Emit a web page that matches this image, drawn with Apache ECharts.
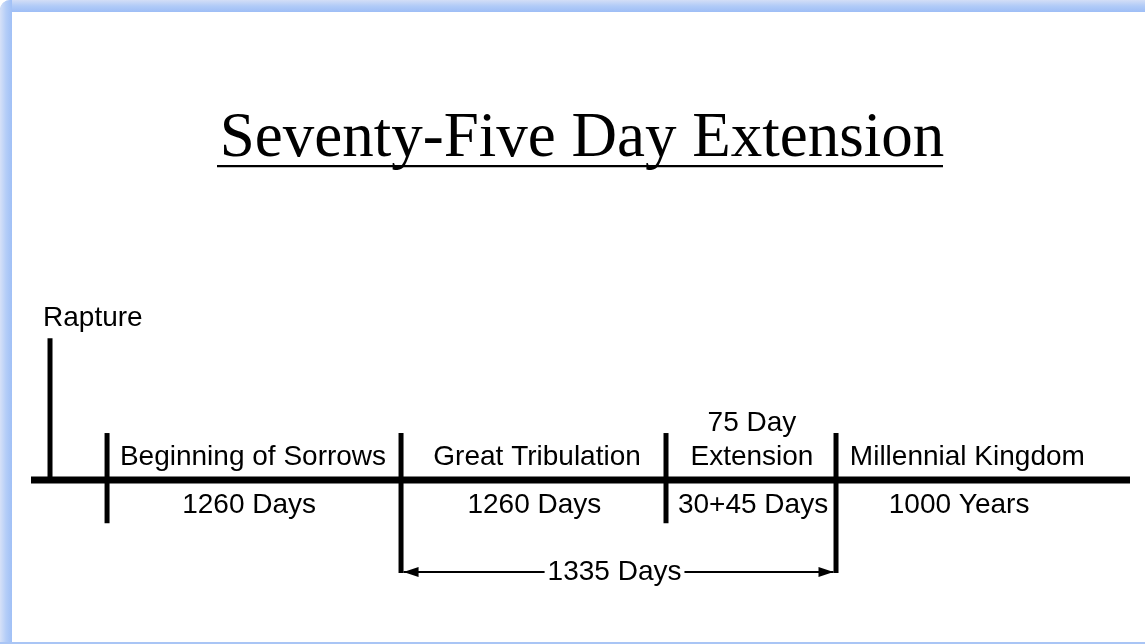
<!DOCTYPE html>
<html><head><meta charset="utf-8">
<script src="https://cdn.jsdelivr.net/npm/echarts@6/dist/echarts.min.js"></script>
<style>html,body{margin:0;padding:0;background:#fff}#c{width:1145px;height:644px}</style>
</head><body><div id="c"></div>
<script>
// ---- data (schematic timeline units: 0..100 along the line, 0 = the line) ----
const titleText = 'Seventy-Five Day Extension';
const timelineRange = [0, 100];
const raptureName = 'Rapture';
const rapturePos = 1.73;
const raptureHeight = 3.05;
const boundaryPos = [6.92, 33.67, 57.78, 73.25];
const boundaryTop = [1.01, 1.01, 1.01, 1.01];
const boundaryBottom = [-0.93, -2.0, -0.93, -2.0];
const periodNames = ['Beginning of Sorrows', 'Great Tribulation', '75 Day\nExtension', 'Millennial Kingdom'];
const periodNamePos = [20.2, 46.05, 65.6, 85.2];
const periodDurations = ['1260 Days', '1260 Days', '30+45 Days', '1000 Years'];
const periodDurationPos = [19.85, 45.8, 65.7, 84.45];
const spanLabel = '1335 Days';
const spanFrom = 33.67, spanTo = 73.25, spanLevel = -1.98;

// ---- styles ----
const SANS = '"Liberation Sans", Arial, sans-serif';
const FS = 28;
const chart = echarts.init(document.getElementById('c'), null, {renderer: 'canvas'});

function textEl(api, x, y, txt, vAlign, extra) {
  const p = api.coord([x, y]);
  return {
    type: 'text', x: p[0], y: p[1],
    style: Object.assign({
      text: txt, fill: '#000', fontSize: FS, fontFamily: SANS,
      align: 'center', verticalAlign: vAlign, lineHeight: 34
    }, extra || {})
  };
}

const option = {
  backgroundColor: '#fff',
  animation: false,
  grid: {left: 31, right: 15, top: 321.9, bottom: 5.9},
  xAxis: {type: 'value', min: timelineRange[0], max: timelineRange[1], show: false},
  yAxis: {type: 'value', min: -3.4, max: 3.4, show: false},
  graphic: [
    {type: 'rect', shape: {x: 0, y: 0, width: 1145, height: 12, r: [10, 0, 0, 0]},
     style: {fill: new echarts.graphic.LinearGradient(0, 0, 0, 1, [
       {offset: 0, color: '#d3def6'}, {offset: 0.5, color: '#b1cbf7'}, {offset: 1, color: '#9ebef6'}])}},
    {type: 'rect', shape: {x: 0, y: 0, width: 12, height: 644, r: [10, 0, 0, 0]},
     style: {fill: new echarts.graphic.LinearGradient(0, 0, 1, 0, [
       {offset: 0, color: '#d6e1f7'}, {offset: 0.5, color: '#b4cdf7'}, {offset: 1, color: '#a0c0f6'}])}},
    {type: 'rect', shape: {x: 0, y: 642, width: 1145, height: 2}, style: {fill: '#a9c5f5'}},
    {type: 'text', x: 582, y: 139,
     style: {text: titleText, fontSize: 63, fontFamily: '"Liberation Serif", "Times New Roman", serif',
             fill: '#000', align: 'center', verticalAlign: 'middle'}},
    {type: 'rect', shape: {x: 217, y: 165, width: 726, height: 2.2}, style: {fill: '#000'}}
  ],
  series: [
    { // main timeline
      type: 'line', data: [[timelineRange[0], 0], [timelineRange[1], 0]],
      symbol: 'none', lineStyle: {color: '#000', width: 7, cap: 'butt'}, silent: true, z: 2
    },
    { // rapture marker
      type: 'custom', data: [[rapturePos, raptureHeight]], z: 3,
      renderItem: function (params, api) {
        const a = api.coord([api.value(0), 0]);
        const b = api.coord([api.value(0), api.value(1)]);
        return {type: 'group', children: [
          {type: 'line', shape: {x1: a[0], y1: a[1], x2: b[0], y2: b[1]},
           style: {stroke: '#000', lineWidth: 5, lineCap: 'butt'}},
          {type: 'text', x: b[0] - 7, y: b[1] - 20,
           style: {text: raptureName, fill: '#000', fontSize: FS, fontFamily: SANS,
                   align: 'left', verticalAlign: 'middle'}}
        ]};
      }
    },
    { // period boundaries
      type: 'custom', z: 3,
      data: boundaryPos.map((p, i) => [p, boundaryTop[i], boundaryBottom[i]]),
      renderItem: function (params, api) {
        const a = api.coord([api.value(0), api.value(1)]);
        const b = api.coord([api.value(0), api.value(2)]);
        return {type: 'line', shape: {x1: a[0], y1: a[1], x2: b[0], y2: b[1]},
                style: {stroke: '#000', lineWidth: 5, lineCap: 'butt'}};
      }
    },
    { // period names above line
      type: 'custom', z: 4,
      data: periodNamePos.map((p, i) => [p, i]),
      renderItem: function (params, api) {
        return textEl(api, api.value(0), 0.13, periodNames[api.value(1)], 'bottom');
      }
    },
    { // durations below line
      type: 'custom', z: 4,
      data: periodDurationPos.map((p, i) => [p, i]),
      renderItem: function (params, api) {
        return textEl(api, api.value(0), -0.54, periodDurations[api.value(1)], 'middle');
      }
    },
    { // 1335-day span arrow
      type: 'custom', z: 4,
      data: [[spanFrom, spanTo, spanLevel]],
      renderItem: function (params, api) {
        const a = api.coord([api.value(0), api.value(2)]);
        const b = api.coord([api.value(1), api.value(2)]);
        const L = 15, H = 5, g = 2.5;
        const mid = [(a[0] + b[0]) / 2, a[1]];
        return {type: 'group', children: [
          {type: 'line', shape: {x1: a[0] + g, y1: a[1], x2: b[0] - g, y2: b[1]},
           style: {stroke: '#000', lineWidth: 2}},
          {type: 'polygon', shape: {points: [[a[0] + g, a[1]], [a[0] + g + L, a[1] - H], [a[0] + g + L, a[1] + H]]},
           style: {fill: '#000'}},
          {type: 'polygon', shape: {points: [[b[0] - g, b[1]], [b[0] - g - L, b[1] - H], [b[0] - g - L, b[1] + H]]},
           style: {fill: '#000'}},
          {type: 'text', x: mid[0] - 4, y: mid[1],
           style: {text: spanLabel, fill: '#000', fontSize: FS, fontFamily: SANS,
                   align: 'center', verticalAlign: 'middle', backgroundColor: '#fff', padding: [0, 3]}}
        ]};
      }
    }
  ]
};
chart.setOption(option);
</script></body></html>
